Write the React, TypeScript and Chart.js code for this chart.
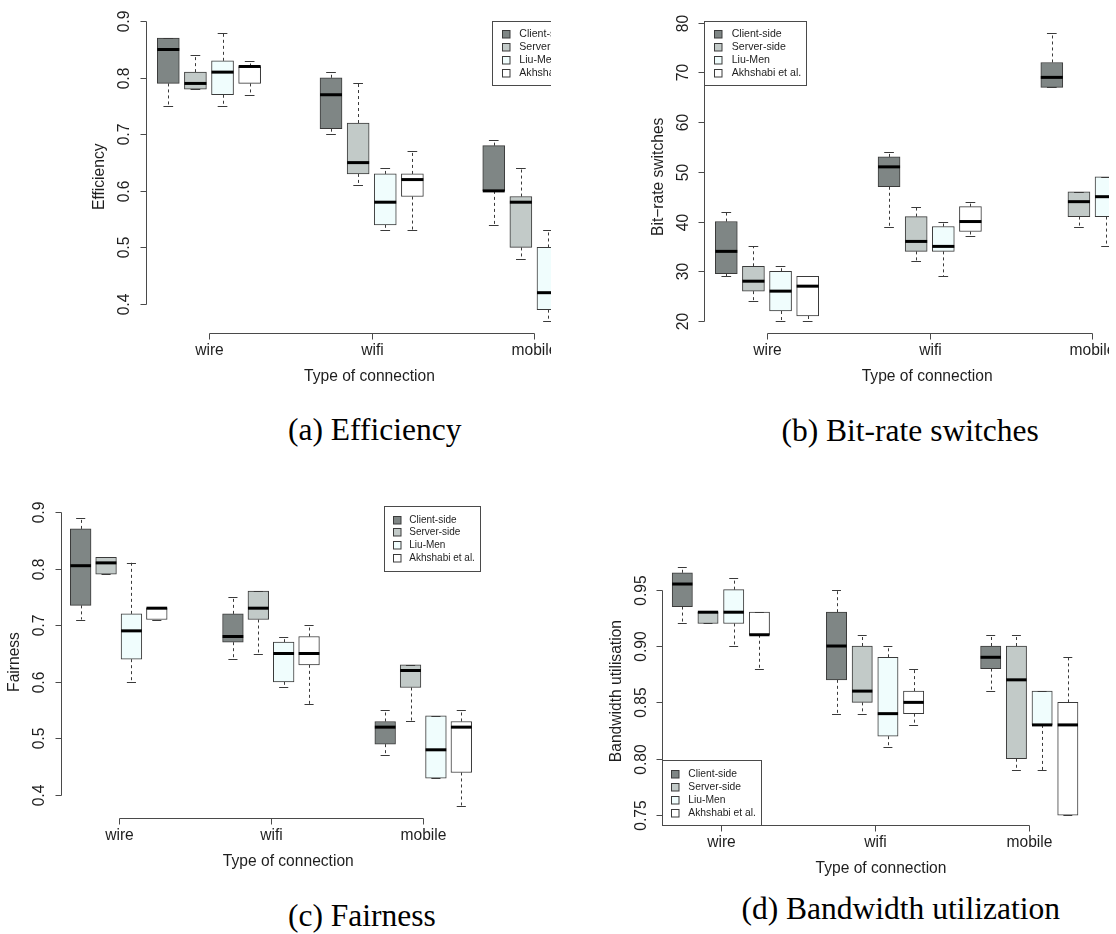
import React, { useEffect, useRef } from 'react';
import { Chart, registerables } from 'chart.js';

Chart.register(...registerables);

// ---------------- data ----------------
const categories = ['wire', 'wifi', 'mobile'];
const seriesNames = ['Client-side', 'Server-side', 'Liu-Men', 'Akhshabi et al.'];
const seriesColors = ['#7f8685', '#c2cac8', '#f0fdfd', '#ffffff'];

// five-number summaries per category: [lower whisker, Q1, median, Q3, upper whisker]
const efficiencyClientSide = [[0.75, 0.79, 0.85, 0.87, 0.87], [0.70, 0.71, 0.77, 0.80, 0.81], [0.54, 0.60, 0.60, 0.68, 0.69]];
const efficiencyServerSide = [[0.78, 0.78, 0.79, 0.81, 0.84], [0.61, 0.63, 0.65, 0.72, 0.79], [0.48, 0.50, 0.58, 0.59, 0.64]];
const efficiencyLiuMen = [[0.75, 0.77, 0.81, 0.83, 0.88], [0.53, 0.54, 0.58, 0.63, 0.64], [0.37, 0.39, 0.42, 0.50, 0.53]];
const efficiencyAkhshabi = [[0.77, 0.79, 0.82, 0.82, 0.83], [0.53, 0.59, 0.62, 0.63, 0.67], [0.40, 0.42, 0.45, 0.49, 0.52]];

const switchesClientSide = [[29, 29.5, 34, 40, 42], [39, 47, 51, 53, 54], [67, 67, 69, 72, 78]];
const switchesServerSide = [[24, 26, 28, 31, 35], [32, 34, 36, 41, 43], [39, 41, 44, 46, 46]];
const switchesLiuMen = [[20, 22, 26, 30, 31], [29, 34, 35, 39, 40], [35, 41, 45, 49, 49]];
const switchesAkhshabi = [[20, 21, 27, 29, 29], [37, 38, 40, 43, 44], [38, 40, 43, 46, 48]];

const fairnessClientSide = [[0.71, 0.735, 0.805, 0.87, 0.89], [0.64, 0.67, 0.68, 0.72, 0.75], [0.47, 0.49, 0.52, 0.53, 0.55]];
const fairnessServerSide = [[0.79, 0.79, 0.81, 0.82, 0.82], [0.65, 0.71, 0.73, 0.76, 0.76], [0.53, 0.59, 0.62, 0.63, 0.63]];
const fairnessLiuMen = [[0.60, 0.64, 0.69, 0.72, 0.81], [0.59, 0.60, 0.65, 0.67, 0.68], [0.43, 0.43, 0.48, 0.54, 0.54]];
const fairnessAkhshabi = [[0.71, 0.71, 0.73, 0.73, 0.73], [0.56, 0.63, 0.65, 0.68, 0.70], [0.38, 0.44, 0.52, 0.53, 0.55]];

const bandwidthClientSide = [[0.92, 0.935, 0.955, 0.965, 0.97], [0.84, 0.87, 0.90, 0.93, 0.95], [0.86, 0.88, 0.89, 0.90, 0.91]];
const bandwidthServerSide = [[0.92, 0.92, 0.93, 0.93, 0.93], [0.84, 0.85, 0.86, 0.90, 0.91], [0.79, 0.80, 0.87, 0.90, 0.91]];
const bandwidthLiuMen = [[0.90, 0.92, 0.93, 0.95, 0.96], [0.81, 0.82, 0.84, 0.89, 0.90], [0.79, 0.83, 0.83, 0.86, 0.86]];
const bandwidthAkhshabi = [[0.88, 0.91, 0.91, 0.93, 0.93], [0.83, 0.84, 0.85, 0.86, 0.88], [0.75, 0.75, 0.83, 0.85, 0.89]];

const efficiencyTicks = [0.4, 0.5, 0.6, 0.7, 0.8, 0.9];
const efficiencyTickLabels = ['0.4', '0.5', '0.6', '0.7', '0.8', '0.9'];
const switchesTicks = [20, 30, 40, 50, 60, 70, 80];
const switchesTickLabels = ['20', '30', '40', '50', '60', '70', '80'];
const fairnessTicks = [0.4, 0.5, 0.6, 0.7, 0.8, 0.9];
const fairnessTickLabels = ['0.4', '0.5', '0.6', '0.7', '0.8', '0.9'];
const bandwidthTicks = [0.75, 0.8, 0.85, 0.9, 0.95];
const bandwidthTickLabels = ['0.75', '0.80', '0.85', '0.90', '0.95'];

const xTitle = 'Type of connection';

// ---------------- styles / layout ----------------
const SANS = '"Liberation Sans", Arial, Helvetica, sans-serif';
const SERIF = '"Liberation Serif", "Times New Roman", serif';
const AXIS_COLOR = '#4a4a4a';
const BOX_LINE = '#3a3a3a';
const TEXT_COLOR = '#1e1e1e';
const GROUP_STRIDE = 6; // box slots per category

type Cfg = {
  canvas: { x: number; y: number; w: number; h: number };
  clipW: number;
  area: { left: number; right: number; top: number; bottom: number };
  xRange: [number, number];
  yRange: [number, number];
  boxWidth: number;
  series: number[][][];
  ticks: number[];
  tickLabels: string[];
  yTitle: string;
  legend: { x: number; y: number; w: number; h: number; font: number; sqDx: number; txtDx: number; row0: number; rowStep: number };
};

const panels: Cfg[] = [
  {
    canvas: { x: 0, y: 0, w: 640, h: 400 },
    clipW: 551,
    area: { left: 145.7, right: 593.2, top: 21, bottom: 332.5 },
    xRange: [0.167, 16.667],
    yRange: [0.3496, 0.9004],
    boxWidth: 22,
    series: [efficiencyClientSide, efficiencyServerSide, efficiencyLiuMen, efficiencyAkhshabi],
    ticks: efficiencyTicks,
    tickLabels: efficiencyTickLabels,
    yTitle: 'Efficiency',
    legend: { x: 491.7, y: 21, w: 102.4, h: 64.3, font: 10.6, sqDx: 14, txtDx: 27.6, row0: 13, rowStep: 13 },
  },
  {
    canvas: { x: 590, y: 0, w: 600, h: 400 },
    clipW: 519,
    area: { left: 704.3, right: 1150, top: 21.1, bottom: 332.5 },
    xRange: [0.189, 16.62],
    yRange: [17.68, 80.32],
    boxWidth: 22,
    series: [switchesClientSide, switchesServerSide, switchesLiuMen, switchesAkhshabi],
    ticks: switchesTicks,
    tickLabels: switchesTickLabels,
    yTitle: 'Bit\u2212rate switches',
    legend: { x: 704.3, y: 21, w: 102.4, h: 64.3, font: 10.6, sqDx: 13.4, txtDx: 27.4, row0: 13, rowStep: 13 },
  },
  {
    canvas: { x: 0, y: 470, w: 560, h: 420 },
    clipW: 560,
    area: { left: 61, right: 515.6, top: 506, bottom: 818 },
    xRange: [0.224, 18.14],
    yRange: [0.3596, 0.9104],
    boxWidth: 20.7,
    series: [fairnessClientSide, fairnessServerSide, fairnessLiuMen, fairnessAkhshabi],
    ticks: fairnessTicks,
    tickLabels: fairnessTickLabels,
    yTitle: 'Fairness',
    legend: { x: 384, y: 506, w: 95.7, h: 64.7, font: 10, sqDx: 13, txtDx: 25.3, row0: 13.3, rowStep: 12.9 },
  },
  {
    canvas: { x: 580, y: 470, w: 536, h: 420 },
    clipW: 536,
    area: { left: 662.3, right: 1099.7, top: 557.2, bottom: 825 },
    xRange: [0.222, 17.24],
    yRange: [0.7412, 0.9788],
    boxWidth: 20.3,
    series: [bandwidthClientSide, bandwidthServerSide, bandwidthLiuMen, bandwidthAkhshabi],
    ticks: bandwidthTicks,
    tickLabels: bandwidthTickLabels,
    yTitle: 'Bandwidth utilisation',
    legend: { x: 662.3, y: 760, w: 99, h: 65, font: 10.3, sqDx: 12.7, txtDx: 26, row0: 13.3, rowStep: 13.1 },
  },
];

const captions = [
  { text: '(a) Efficiency', left: 288, baseline: 440 },
  { text: '(b) Bit-rate switches', left: 781.5, baseline: 441 },
  { text: '(c) Fairness', left: 288, baseline: 926 },
  { text: '(d) Bandwidth utilization', left: 741.5, baseline: 919 },
];
const CAPTION_SIZE = 31.5;

const slot = (gi: number, si: number) => gi * GROUP_STRIDE + si + 1;
const categoryCenter = (gi: number) => gi * GROUP_STRIDE + 2.5;

function BoxPanel({ cfg }: { cfg: Cfg }) {
  const ref = useRef<HTMLCanvasElement>(null);

  useEffect(() => {
    const canvas = ref.current;
    if (!canvas) return;
    const { canvas: cv, area } = cfg;

    const datasets = cfg.series.map((stats, si) => ({
      label: seriesNames[si],
      data: stats.map((s, gi) => ({ x: slot(gi, si), y: [s[1], s[3]] })),
      backgroundColor: seriesColors[si],
      borderColor: BOX_LINE,
      borderWidth: 1,
      borderSkipped: false,
      grouped: false,
      categoryPercentage: 1,
      barPercentage: 1,
      maxBarThickness: cfg.boxWidth,
    }));

    const line = (ctx: CanvasRenderingContext2D, x1: number, y1: number, x2: number, y2: number) => {
      ctx.beginPath();
      ctx.moveTo(x1, y1);
      ctx.lineTo(x2, y2);
      ctx.stroke();
    };

    const boxPlugin = {
      id: 'rBoxplot',
      beforeDatasetsDraw(chart: any) {
        const ctx: CanvasRenderingContext2D = chart.ctx;
        const ys = chart.scales.y;
        ctx.save();
        ctx.strokeStyle = BOX_LINE;
        ctx.lineWidth = 1;
        ctx.setLineDash([3, 3]);
        cfg.series.forEach((stats, si) => {
          const meta = chart.getDatasetMeta(si);
          meta.data.forEach((bar: any, gi: number) => {
            const s = stats[gi];
            const x = Math.round(bar.x) + 0.5;
            if (s[4] > s[3]) line(ctx, x, ys.getPixelForValue(s[3]), x, ys.getPixelForValue(s[4]));
            if (s[0] < s[1]) line(ctx, x, ys.getPixelForValue(s[1]), x, ys.getPixelForValue(s[0]));
          });
        });
        ctx.restore();
      },
      afterDatasetsDraw(chart: any) {
        const ctx: CanvasRenderingContext2D = chart.ctx;
        const ys = chart.scales.y;
        ctx.save();
        cfg.series.forEach((stats, si) => {
          const meta = chart.getDatasetMeta(si);
          meta.data.forEach((bar: any, gi: number) => {
            const s = stats[gi];
            const w = bar.width;
            const cap = w * 0.22;
            ctx.strokeStyle = BOX_LINE;
            ctx.lineWidth = 1;
            const yHi = Math.round(ys.getPixelForValue(s[4])) + 0.5;
            const yLo = Math.round(ys.getPixelForValue(s[0])) + 0.5;
            line(ctx, bar.x - cap, yHi, bar.x + cap, yHi);
            line(ctx, bar.x - cap, yLo, bar.x + cap, yLo);
            ctx.strokeStyle = '#000000';
            ctx.lineWidth = 3;
            const yMed = ys.getPixelForValue(s[2]);
            line(ctx, bar.x - w / 2, yMed, bar.x + w / 2, yMed);
          });
        });
        ctx.restore();
      },
      afterDraw(chart: any) {
        const ctx: CanvasRenderingContext2D = chart.ctx;
        const xs = chart.scales.x;
        const ys = chart.scales.y;
        const ca = chart.chartArea;
        ctx.save();
        ctx.strokeStyle = AXIS_COLOR;
        ctx.lineWidth = 1;
        ctx.fillStyle = TEXT_COLOR;
        ctx.font = `15.6px ${SANS}`;
        ctx.textAlign = 'center';
        ctx.textBaseline = 'middle';

        // y axis
        const ax = Math.round(ca.left) + 0.5;
        const yFirst = ys.getPixelForValue(cfg.ticks[0]);
        const yLast = ys.getPixelForValue(cfg.ticks[cfg.ticks.length - 1]);
        line(ctx, ax, Math.round(yFirst) + 0.5, ax, Math.round(yLast) + 0.5);
        cfg.ticks.forEach((t, i) => {
          const py = Math.round(ys.getPixelForValue(t)) + 0.5;
          line(ctx, ax - 6, py, ax, py);
          ctx.save();
          ctx.translate(ca.left - 21, py);
          ctx.rotate(-Math.PI / 2);
          ctx.fillText(cfg.tickLabels[i], 0, 0);
          ctx.restore();
        });
        ctx.save();
        ctx.translate(ca.left - 46, (ca.top + ca.bottom) / 2);
        ctx.rotate(-Math.PI / 2);
        ctx.fillText(cfg.yTitle, 0, 0);
        ctx.restore();

        // x axis
        const by = Math.round(ca.bottom) + 0.5;
        const xFirst = Math.round(xs.getPixelForValue(categoryCenter(0))) + 0.5;
        const xLast = Math.round(xs.getPixelForValue(categoryCenter(categories.length - 1))) + 0.5;
        line(ctx, xFirst, by, xLast, by);
        categories.forEach((c, gi) => {
          const px = Math.round(xs.getPixelForValue(categoryCenter(gi))) + 0.5;
          line(ctx, px, by, px, by + 6);
          ctx.fillText(c, px, ca.bottom + 18);
        });
        ctx.fillText(xTitle, (ca.left + ca.right) / 2, ca.bottom + 44);

        // legend
        const lg = cfg.legend;
        const lx = lg.x - cv.x;
        const ly = lg.y - cv.y;
        ctx.fillStyle = '#ffffff';
        ctx.fillRect(lx, ly, lg.w, lg.h);
        ctx.strokeStyle = AXIS_COLOR;
        ctx.strokeRect(Math.round(lx) + 0.5, Math.round(ly) + 0.5, Math.round(lg.w), Math.round(lg.h));
        ctx.font = `${lg.font}px ${SANS}`;
        ctx.textAlign = 'left';
        seriesNames.forEach((name, si) => {
          const ry = ly + lg.row0 + si * lg.rowStep;
          const sq = 7.5;
          const sx = Math.round(lx + lg.sqDx - sq / 2) + 0.5;
          const sy = Math.round(ry - sq / 2) + 0.5;
          ctx.fillStyle = seriesColors[si];
          ctx.fillRect(sx, sy, sq, sq);
          ctx.strokeStyle = BOX_LINE;
          ctx.strokeRect(sx, sy, sq, sq);
          ctx.fillStyle = TEXT_COLOR;
          ctx.fillText(name, lx + lg.txtDx, ry + 0.5);
        });
        ctx.restore();
      },
    };

    const chart = new Chart(canvas, {
      type: 'bar',
      data: { datasets: datasets as any },
      options: {
        responsive: false,
        animation: false,
        events: [],
        devicePixelRatio: 1,
        layout: {
          padding: {
            left: area.left - cv.x,
            right: cv.w - (area.right - cv.x),
            top: area.top - cv.y,
            bottom: cv.h - (area.bottom - cv.y),
          },
        },
        plugins: {
          legend: { display: false },
          tooltip: { enabled: false },
          title: { display: false },
        },
        scales: {
          x: {
            type: 'linear',
            display: false,
            offset: false,
            min: cfg.xRange[0],
            max: cfg.xRange[1],
            afterBuildTicks: (scale: any) => {
              scale.ticks = categories.map((_, gi) => ({ value: categoryCenter(gi) }));
            },
          },
          y: {
            type: 'linear',
            display: false,
            min: cfg.yRange[0],
            max: cfg.yRange[1],
          },
        },
      } as any,
      plugins: [boxPlugin],
    });
    return () => chart.destroy();
  }, [cfg]);

  return (
    <div
      style={{
        position: 'absolute',
        left: cfg.canvas.x,
        top: cfg.canvas.y,
        width: cfg.clipW,
        height: cfg.canvas.h,
        overflow: 'hidden',
      }}
    >
      <canvas
        ref={ref}
        width={cfg.canvas.w}
        height={cfg.canvas.h}
        style={{ display: 'block', width: cfg.canvas.w, height: cfg.canvas.h }}
      />
    </div>
  );
}

export default function App() {
  return (
    <div
      style={{
        position: 'absolute',
        left: 0,
        top: 0,
        width: 1116,
        height: 934,
        background: '#ffffff',
        overflow: 'hidden',
      }}
    >
      {panels.map((p, i) => (
        <BoxPanel key={i} cfg={p} />
      ))}
      {captions.map((c, i) => (
        <div
          key={'cap' + i}
          style={{
            position: 'absolute',
            left: c.left,
            top: c.baseline - CAPTION_SIZE * 0.8375,
            fontFamily: SERIF,
            fontSize: CAPTION_SIZE,
            lineHeight: 1,
            whiteSpace: 'nowrap',
            color: '#000000',
          }}
        >
          {c.text}
        </div>
      ))}
    </div>
  );
}
